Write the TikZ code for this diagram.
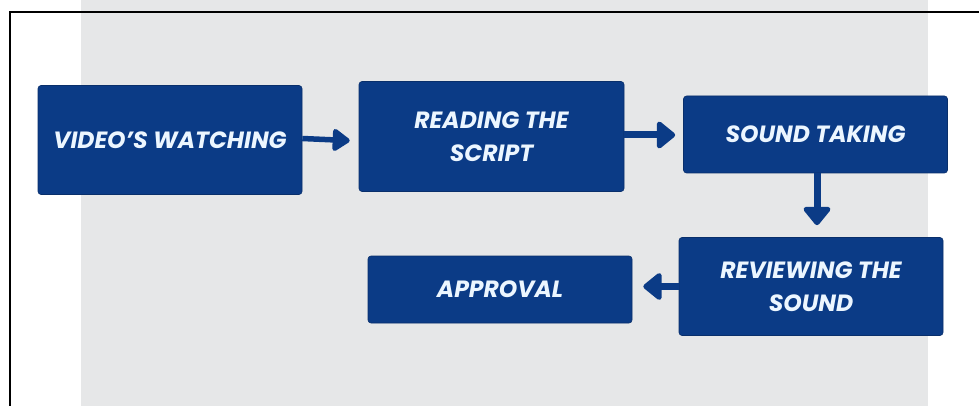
\documentclass[tikz,border=0pt]{standalone}
\usepackage{fontspec}
\setmainfont{Poppins}
\usetikzlibrary{arrows.meta}
\definecolor{boxblue}{RGB}{11,59,134}
\definecolor{panelgray}{RGB}{230,231,232}
\definecolor{textwhite}{RGB}{236,246,255}
\tikzset{
  stepbox/.style={draw=boxblue!80!black, line width=0.6pt, fill=boxblue,
    rounded corners=3pt, text=textwhite, align=center,
    font=\fontsize{23.5}{33}\selectfont\bfseries\itshape, inner sep=0pt},
  flow/.style={draw=boxblue, line width=7pt,
    -{Triangle[round, width=31pt, length=20pt]}},
  flowthin/.style={draw=boxblue, line width=5.5pt,
    -{Triangle[round, width=25pt, length=19pt]}}
}
\begin{document}
\begin{tikzpicture}[x=1pt, y=-1pt]
  \useasboundingbox (0,0) rectangle (979,406);
  % white page, grey panel and the black frame
  \fill[white] (0,0) rectangle (979,406);
  \fill[panelgray] (81,0) rectangle (928,406);
  \draw[black, line width=1.6pt] (10,408) -- (10,12) -- (981,12);

  % process steps
  \node[stepbox, minimum width=264pt, minimum height=109pt] (video)
    at (170,140) {VIDEO’S WATCHING};
  \node[stepbox, minimum width=265pt, minimum height=110pt] (reading)
    at (491.5,136.5) {READING THE\\SCRIPT};
  \node[stepbox, minimum width=264pt, minimum height=77pt] (sound)
    at (815.5,134.5) {SOUND TAKING};
  \node[stepbox, minimum width=264pt, minimum height=98pt] (review)
    at (811,286.5) {REVIEWING THE\\SOUND};
  \node[stepbox, minimum width=264pt, minimum height=67pt] (approval)
    at (500,289.5) {APPROVAL};

  % connectors
  \draw[flowthin, shorten >=9pt] ([yshift=1.5pt]video.east) -- ([yshift=-1pt]video.east -| reading.west);
  \draw[flow, shorten >=8pt] ([yshift=1.5pt]reading.east) -- ([yshift=1.5pt]reading.east -| sound.west);
  \draw[flow, shorten >=12pt] ([xshift=1.5pt]sound.south) -- ([xshift=1.5pt]sound.south |- review.north);
  \draw[flow, shorten >=11pt] (review.west) -- (review.west -| approval.east);
\end{tikzpicture}
\end{document}
